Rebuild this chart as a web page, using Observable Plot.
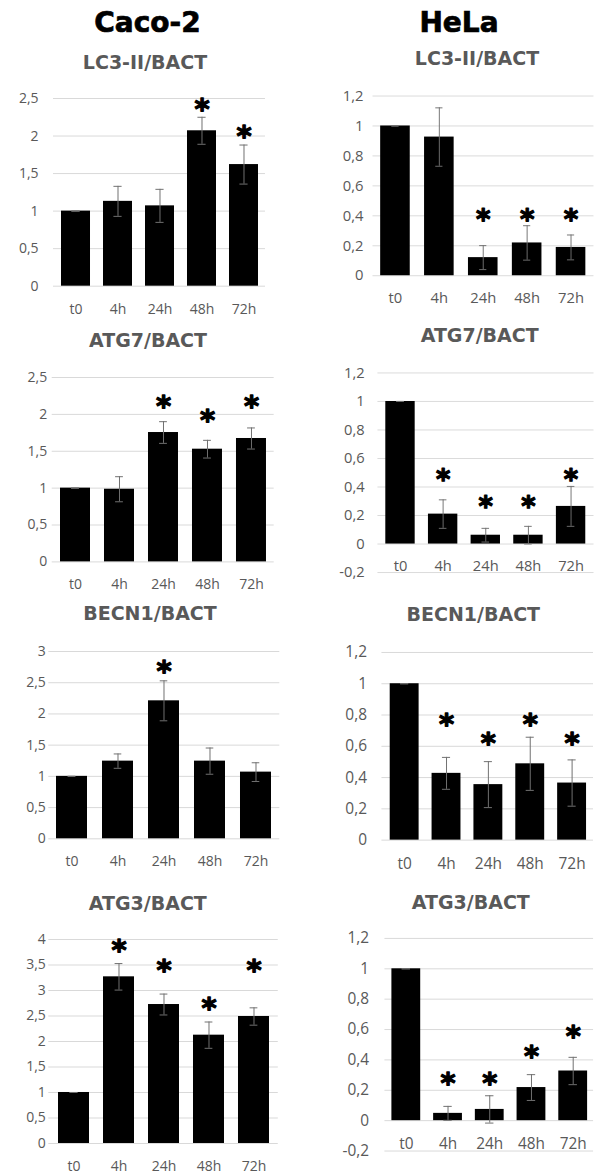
<!DOCTYPE html>
<html>
<head>
<meta charset="utf-8">
<script src="https://cdn.jsdelivr.net/npm/d3@7"></script>
<script src="https://cdn.jsdelivr.net/npm/@observablehq/plot@0.6"></script>
<style>
  html, body { margin: 0; padding: 0; background: #fff; }
  #root { position: relative; width: 603px; height: 1175px; overflow: hidden; background: #fff; }
  .ttl { position: absolute; transform: translate(-50%, -50%); white-space: nowrap; line-height: 1; font-family: "DejaVu Sans", sans-serif; font-weight: bold; }
  .main { font-size: 28px; color: #000; -webkit-text-stroke: 0.7px #000; }
  .sub { font-size: 19px; color: #595959; }
  .pn { position: absolute; }
  .pn svg { font-family: "Open Sans", sans-serif !important; }
  .pn.c0 svg { font-size: 14px !important; }
  .pn.c1 svg { font-size: 15.5px !important; }
</style>
</head>
<body>
<div id="root"></div>
<script>
// ---------- data ----------
const categories = ["t0", "4h", "24h", "48h", "72h"];
const cellLines = ["Caco-2", "HeLa"];

const cacoLC3 = [1.0, 1.13, 1.07, 2.07, 1.62];
const cacoLC3Err = [0, 0.20, 0.22, 0.18, 0.26];
const cacoLC3Star = [null, null, null, 2.43, 2.07];

const helaLC3 = [1.0, 0.926, 0.121, 0.219, 0.189];
const helaLC3Err = [0, 0.195, 0.08, 0.115, 0.083];
const helaLC3Star = [null, null, 0.41, 0.41, 0.41];

const cacoATG7 = [1.0, 0.985, 1.754, 1.528, 1.673];
const cacoATG7Err = [0, 0.17, 0.147, 0.12, 0.143];
const cacoATG7Star = [null, null, 2.19, 2.0, 2.19];

const helaATG7 = [1.0, 0.21, 0.062, 0.062, 0.264];
const helaATG7Err = [0, 0.10, 0.048, 0.062, 0.14];
const helaATG7Star = [null, 0.487, 0.30, 0.30, 0.487];

const cacoBECN1 = [1.0, 1.244, 2.21, 1.244, 1.068];
const cacoBECN1Err = [0, 0.115, 0.32, 0.21, 0.15];
const cacoBECN1Star = [null, null, 2.776, null, null];

const helaBECN1 = [1.0, 0.427, 0.355, 0.488, 0.365];
const helaBECN1Err = [0, 0.102, 0.147, 0.17, 0.148];
const helaBECN1Star = [null, 0.775, 0.654, 0.775, 0.654];

const cacoATG3 = [1.0, 3.268, 2.725, 2.124, 2.49];
const cacoATG3Err = [0, 0.26, 0.205, 0.258, 0.17];
const cacoATG3Star = [null, 3.89, 3.5, 2.765, 3.5];

const helaATG3 = [1.0, 0.048, 0.074, 0.218, 0.327];
const helaATG3Err = [0, 0.046, 0.09, 0.085, 0.09];
const helaATG3Star = [null, 0.284, 0.284, 0.458, 0.589];

const ticks25 = [0, 0.5, 1, 1.5, 2, 2.5];
const ticks3 = [0, 0.5, 1, 1.5, 2, 2.5, 3];
const ticks4 = [0, 0.5, 1, 1.5, 2, 2.5, 3, 3.5, 4];
const ticks12 = [0, 0.2, 0.4, 0.6, 0.8, 1, 1.2];
const ticks12n = [-0.2, 0, 0.2, 0.4, 0.6, 0.8, 1, 1.2];

// ---------- layout ----------
const panels = [
  {title: "LC3-II/BACT", v: cacoLC3, e: cacoLC3Err, s: cacoLC3Star, ticks: ticks25,
   col: 0, x0: 53, x1: 265, yT: 98.3, yB: 286, tp: 15, tx: 145, ty: 61.7},
  {title: "LC3-II/BACT", v: helaLC3, e: helaLC3Err, s: helaLC3Star, ticks: ticks12,
   col: 300, x0: 376, x1: 607.5, yT: 95.7, yB: 284, tp: 10, tx: 477, ty: 58.3},
  {title: "ATG7/BACT", v: cacoATG7, e: cacoATG7Err, s: cacoATG7Star, ticks: ticks25,
   col: 0, x0: 51.7, x1: 273.7, yT: 377.3, yB: 561.7, tp: 5, tx: 148, ty: 340},
  {title: "ATG7/BACT", v: helaATG7, e: helaATG7Err, s: helaATG7Star, ticks: ticks12n,
   col: 300, x0: 381.7, x1: 609.7, yT: 372.7, yB: 583.3, tp: 14, tx: 479.7, ty: 335},
  {title: "BECN1/BACT", v: cacoBECN1, e: cacoBECN1Err, s: cacoBECN1Star, ticks: ticks3,
   col: 0, x0: 48.3, x1: 279.3, yT: 651, yB: 838.3, tp: 3, tx: 150, ty: 612.7},
  {title: "BECN1/BACT", v: helaBECN1, e: helaBECN1Err, s: helaBECN1Star, ticks: ticks12,
   col: 300, x0: 381.7, x1: 594, yT: 651.7, yB: 840, tp: 15, tx: 473.3, ty: 614},
  {title: "ATG3/BACT", v: cacoATG3, e: cacoATG3Err, s: cacoATG3Star, ticks: ticks4,
   col: 0, x0: 48.3, x1: 277.8, yT: 939.3, yB: 1143.3, tp: 3, tx: 147.8, ty: 903.3},
  {title: "ATG3/BACT", v: helaATG3, e: helaATG3Err, s: helaATG3Star, ticks: ticks12n,
   col: 300, x0: 385, x1: 595, yT: 938.3, yB: 1152.3, tp: 16, tx: 470.8, ty: 901.7}
];
const mainTitles = [{x: 147.5, y: 23}, {x: 459, y: 23.3}];

const root = document.getElementById("root");
const fmt = d => String(d).replace(".", ",");
const padIn = 0.32, padOut = 0.16, capW = 8;

cellLines.forEach((name, i) => {
  const d = document.createElement("div");
  d.className = "ttl main";
  d.textContent = name;
  d.style.left = mainTitles[i].x + "px";
  d.style.top = mainTitles[i].y + "px";
  root.appendChild(d);
});

panels.forEach(p => {
  const t = document.createElement("div");
  t.className = "ttl sub";
  t.textContent = p.title;
  t.style.left = p.tx + "px";
  t.style.top = p.ty + "px";
  root.appendChild(t);

  const rows = categories.map((c, i) => ({cat: c, v: p.v[i], e: p.e[i], s: p.s[i]}));
  const mT = 10, mB = 45, mR = 10;
  const mL = p.x0 - p.col;
  const width = (p.x1 - p.col) + mR;
  const height = mT + (p.yB - p.yT) + mB;
  const step = (p.x1 - p.x0) / categories.length;
  const bw = step * (1 - padIn);
  const inset = (bw - capW) / 2;
  const right = p.col > 0;

  const chart = Plot.plot({
    width, height,
    marginLeft: mL, marginRight: mR, marginTop: mT, marginBottom: mB,
    style: {background: "transparent", overflow: "visible", color: "#595959"},
    x: {domain: categories, paddingInner: padIn, paddingOuter: padOut, axis: null},
    y: {domain: [p.ticks[0], p.ticks[p.ticks.length - 1]], axis: null},
    marks: [
      Plot.ruleY(p.ticks, {stroke: "#d9d9d9", strokeWidth: 1}),
      Plot.axisY(p.ticks, {tickSize: 0, tickPadding: p.tp, tickFormat: fmt, fill: "#595959"}),
      Plot.barY(rows, {x: "cat", y: "v", fill: "#000"}),
      Plot.ruleX(rows, {x: "cat", y1: d => d.v - d.e, y2: d => d.v + d.e, stroke: "#707070", strokeWidth: 1}),
      Plot.tickY(rows, {x: "cat", y: d => d.v + d.e, insetLeft: inset, insetRight: inset, stroke: "#707070", strokeWidth: 1}),
      Plot.tickY(rows, {x: "cat", y: d => d.v - d.e, insetLeft: inset, insetRight: inset, stroke: "#707070", strokeWidth: 1}),
      Plot.text(rows.filter(d => d.s != null), {x: "cat", y: "s", text: () => "*", fontSize: 29, fontWeight: "bold", fill: "#000", stroke: "#000", strokeWidth: 1.3, dy: 6, fontFamily: "DejaVu Sans, sans-serif"}),
      Plot.text(categories, {x: d => d, y: () => 0, dy: right ? 24 : 23, fill: "#595959"})
    ]
  });

  const wrap = document.createElement("div");
  wrap.className = "pn " + (right ? "c1" : "c0");
  wrap.style.left = p.col + "px";
  wrap.style.top = (p.yT - mT) + "px";
  wrap.appendChild(chart);
  root.appendChild(wrap);
});
</script>
</body>
</html>
